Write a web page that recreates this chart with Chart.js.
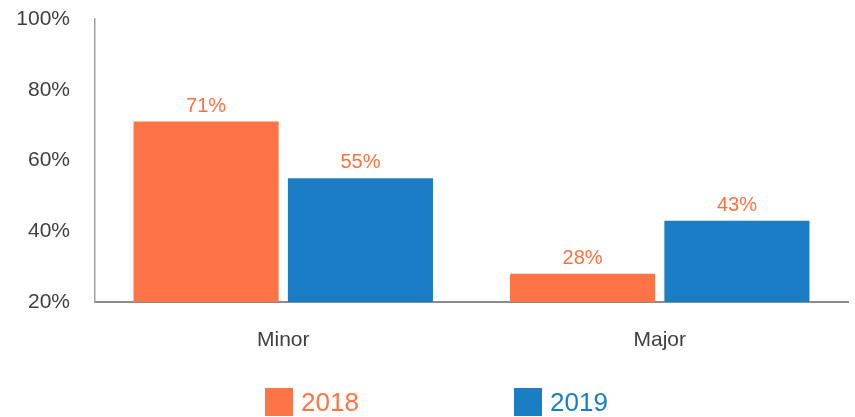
<!DOCTYPE html>
<html>
<head>
<meta charset="utf-8">
<script src="https://cdn.jsdelivr.net/npm/chart.js@4.4.1/dist/chart.umd.min.js"></script>
<style>
    html, body { margin: 0; padding: 0; background: #fff; }
    #wrap { position: relative; width: 855px; height: 417px; }
    .legend-item { position: absolute; top: 388px; height: 28px; display: flex; align-items: center;
        font: 26px "Liberation Sans", Arial, sans-serif; }
    .legend-item span.box { width: 28px; height: 28px; margin-right: 8px; display: inline-block; }
</style>
</head>
<body>
<div id="wrap">
    <canvas id="severityChart" width="855" height="417"></canvas>
    <div id="legend"></div>
</div>
<script>
    // 데이터
    const categories = ['Minor', 'Major'];
    const series2018 = [71, 28];
    const series2019 = [55, 43];
    const seriesNames = ['2018', '2019'];
    const yTicks = [20, 40, 60, 80, 100];

    const orange = '#FF7446';
    const blue = '#1B7EC4';
    const labelColor = '#FF7042';

    // 막대 위에 값 표시
    const barLabels = {
        id: 'barLabels',
        afterDatasetsDraw(chart) {
            const ctx = chart.ctx;
            ctx.save();
            ctx.font = '20px "Liberation Sans", Arial, sans-serif';
            ctx.fillStyle = labelColor;
            ctx.textAlign = 'center';
            ctx.textBaseline = 'alphabetic';
            chart.data.datasets.forEach((ds, i) => {
                chart.getDatasetMeta(i).data.forEach((bar, j) => {
                    ctx.fillText(ds.data[j] + '%', bar.x, bar.y - 10);
                });
            });
            ctx.restore();
        }
    };

    const ctx = document.getElementById('severityChart').getContext('2d');
    const severityChart = new Chart(ctx, {
        type: 'bar',
        data: {
            labels: categories,
            datasets: [{
                label: seriesNames[0],
                data: series2018,
                backgroundColor: orange,
                categoryPercentage: 0.82,
                barPercentage: 0.94
            }, {
                label: seriesNames[1],
                data: series2019,
                backgroundColor: blue,
                categoryPercentage: 0.82,
                barPercentage: 0.94
            }]
        },
        options: {
            responsive: false,
            animation: false,
            layout: { padding: { top: 19, right: 7, left: 0, bottom: 0 } },
            plugins: {
                legend: { display: false },
                tooltip: { enabled: false }
            },
            scales: {
                x: {
                    grid: { display: false },
                    border: { display: true, color: '#8c8c8c', width: 2 },
                    ticks: {
                        color: '#404040',
                        padding: 18,
                        font: { family: '"Liberation Sans", Arial, sans-serif', size: 21 }
                    },
                    afterFit(scale) { scale.height = 115; scale.paddingLeft = 0; scale.paddingRight = 0; }
                },
                y: {
                    min: 20,
                    max: 100,
                    grid: { display: false },
                    border: { display: true, color: '#a0a0a0', width: 1.5 },
                    afterBuildTicks(scale) { scale.ticks = yTicks.map(v => ({ value: v })); },
                    ticks: {
                        color: '#404040',
                        padding: 17,
                        font: { family: '"Liberation Sans", Arial, sans-serif', size: 21 },
                        callback: v => v + '%'
                    },
                    afterFit(scale) { scale.width = 95; scale.paddingTop = 0; scale.paddingBottom = 0; }
                }
            }
        },
        plugins: [barLabels]
    });

    // 범례 (HTML)
    const legendEl = document.getElementById('legend');
    const legendLeft = [265, 514];
    severityChart.data.datasets.forEach((ds, i) => {
        const item = document.createElement('div');
        item.className = 'legend-item';
        item.style.left = legendLeft[i] + 'px';
        item.style.color = ds.backgroundColor;
        item.innerHTML = '<span class="box" style="background:' + ds.backgroundColor + '"></span>' + ds.label;
        legendEl.appendChild(item);
    });
</script>
</body>
</html>
